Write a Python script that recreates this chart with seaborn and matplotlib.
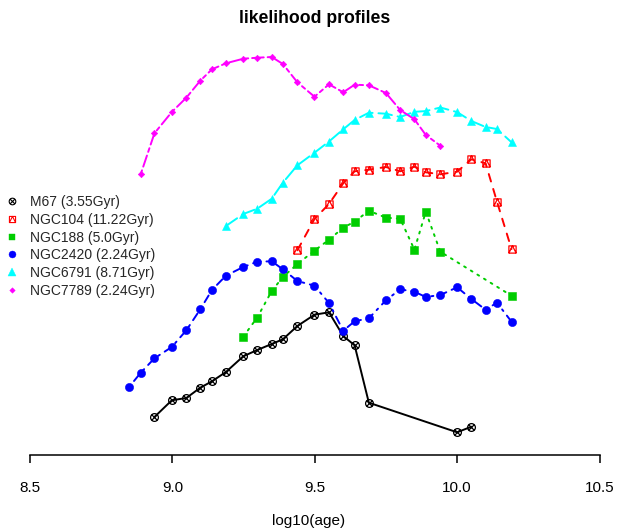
import matplotlib
matplotlib.use("Agg")
import matplotlib.pyplot as plt
from matplotlib.path import Path
from matplotlib.lines import Line2D
import seaborn as sns

# ---------------- data ----------------
names = ["M67 (3.55Gyr)", "NGC104 (11.22Gyr)", "NGC188 (5.0Gyr)",
         "NGC2420 (2.24Gyr)", "NGC6791 (8.71Gyr)", "NGC7789 (2.24Gyr)"]

m67_age = [8.937, 8.998, 9.049, 9.098, 9.139, 9.188, 9.249, 9.298, 9.349, 9.388,
           9.439, 9.499, 9.55, 9.6, 9.64, 9.69, 10.0, 10.05]
m67_val = [38, 54.7, 57, 67.3, 73.7, 83, 98.7, 105, 111, 115.7,
           129, 140.3, 142.7, 119, 109.7, 52.3, 22.7, 28.3]

ngc104_age = [9.439, 9.499, 9.55, 9.6, 9.64, 9.69, 9.75, 9.8, 9.85, 9.89,
              9.941, 10.0, 10.05, 10.1, 10.14, 10.191]
ngc104_val = [204.7, 236, 251, 271.7, 283.7, 285.3, 288, 283.7, 288.3, 282.7,
              280.7, 283.3, 295.7, 291.7, 253.3, 206]

ngc188_age = [9.249, 9.298, 9.349, 9.388, 9.439, 9.499, 9.55, 9.6, 9.64, 9.69,
              9.75, 9.8, 9.85, 9.89, 9.941, 10.191]
ngc188_val = [118.3, 137.5, 164, 178, 191, 204.3, 215.3, 227.3, 233.3, 244.3,
              237.3, 236.3, 205.3, 243.3, 203.3, 159.3]

ngc2420_age = [8.848, 8.889, 8.937, 8.998, 9.049, 9.098, 9.139, 9.188, 9.249, 9.298,
               9.349, 9.388, 9.439, 9.499, 9.55, 9.6, 9.64, 9.69, 9.75, 9.8,
               9.85, 9.89, 9.941, 10.0, 10.05, 10.1, 10.14, 10.191]
ngc2420_val = [68, 82.3, 96.7, 108, 124.7, 145.7, 165, 179.3, 188, 193.3,
               193.7, 185.7, 174, 169.3, 152, 124.3, 133.7, 136.7, 154.7, 165.7,
               163.3, 158, 160, 167.7, 156, 145.3, 152.3, 133.3]

ngc6791_age = [9.188, 9.249, 9.298, 9.349, 9.388, 9.439, 9.499, 9.55, 9.6, 9.64,
               9.69, 9.75, 9.8, 9.85, 9.89, 9.941, 10.0, 10.05, 10.1, 10.14, 10.191]
ngc6791_val = [229, 241, 246.3, 256.3, 272.3, 289.7, 302.3, 313.5, 325.7, 335,
               342.3, 341.3, 338, 343.2, 343.9, 347.5, 342.9, 334, 328, 326, 312.7]

ngc7789_age = [8.889, 8.937, 8.998, 9.049, 9.098, 9.139, 9.188, 9.249, 9.298, 9.349,
               9.388, 9.439, 9.499, 9.55, 9.6, 9.64, 9.69, 9.75, 9.8, 9.85,
               9.89, 9.941]
ngc7789_val = [281, 321.7, 343, 357.3, 374.3, 385.7, 391.7, 396.3, 397.3, 398,
               391, 372.7, 358.3, 370.7, 362.7, 370.3, 369.7, 362, 345, 335.7,
               320, 309.3]

xticks = [8.5, 9.0, 9.5, 10.0, 10.5]
xtick_labels = ["8.5", "9.0", "9.5", "10.0", "10.5"]

ages = [m67_age, ngc104_age, ngc188_age, ngc2420_age, ngc6791_age, ngc7789_age]
vals = [m67_val, ngc104_val, ngc188_val, ngc2420_val, ngc6791_val, ngc7789_val]

# ---------------- styles ----------------
colors = ["black", "#FF0000", "#00CD00", "#0000FF", "#00FFFF", "#FF00FF"]

circ_x = Path.make_compound_path(
    Path.unit_circle(),
    Path([(-0.707, -0.707), (0.707, 0.707)], [Path.MOVETO, Path.LINETO]),
    Path([(-0.707, 0.707), (0.707, -0.707)], [Path.MOVETO, Path.LINETO]),
)
sq_tri = Path.make_compound_path(
    Path([(-1, -1), (1, -1), (1, 1), (-1, 1), (-1, -1)],
         [Path.MOVETO, Path.LINETO, Path.LINETO, Path.LINETO, Path.CLOSEPOLY]),
    Path([(-1, -1), (0, 1), (1, -1)], [Path.MOVETO, Path.LINETO, Path.LINETO]),
)
markers = [circ_x, sq_tri, "s", "o", "^", "D"]
msizes = [5.6, 5.2, 5.3, 5.9, 6.4, 3.3]
filled = [False, False, True, True, True, True]
linestyles = ["-", (0, (4, 4)), (0, (1, 3)), (0, (1, 3, 4, 3)), (0, (7, 3)), (0, (2, 2, 6, 2))]

W, H = 617, 531
sns.set_theme(style="white")
plt.rcParams["font.family"] = ["Liberation Sans", "DejaVu Sans"]

fig = plt.figure(figsize=(W / 100, H / 100), dpi=100)
ax = fig.add_axes([30 / W, (H - 455) / H, 569.5 / W, 425 / H])

LW = 1.4
for i in range(6):
    fc = colors[i] if filled[i] else "none"
    sns.lineplot(x=ages[i], y=vals[i], ax=ax, color=colors[i], marker=markers[i],
                 markersize=msizes[i], markeredgecolor=colors[i], markerfacecolor=fc,
                 markeredgewidth=0.9 if not filled[i] else 0.4,
                 linestyle=linestyles[i], linewidth=LW, dash_capstyle="round",
                 estimator=None, sort=False, legend=False)

ax.set_xlim(8.5, 10.5)
ax.set_ylim(0, 425)
for s in ["left", "right", "top"]:
    ax.spines[s].set_visible(False)
ax.spines["bottom"].set_color("black")
ax.spines["bottom"].set_linewidth(1.1)
ax.set_yticks([])
ax.set_xticks(xticks)
ax.set_xticklabels(xtick_labels, fontsize=11)
ax.tick_params(axis="x", direction="out", length=6, width=1.1, color="black",
               pad=12.5, bottom=True, labelcolor="black")
ax.set_ylabel("")
ax.set_xlabel("log10(age)", fontsize=11, color="black")
ax.xaxis.set_label_coords(0.5, 1 - 521 / H, transform=fig.transFigure)
ax.xaxis.label.set_va("center")

fig.text(314.5 / W, 1 - 18.5 / H, "likelihood profiles", ha="center", va="center",
         fontsize=12.7, fontweight="bold", color="black")

handles = []
for i in range(6):
    fc = colors[i] if filled[i] else "none"
    handles.append(Line2D([], [], linestyle="none", marker=markers[i],
                          markersize=msizes[i] * 0.85, color=colors[i],
                          markeredgecolor=colors[i], markerfacecolor=fc,
                          markeredgewidth=0.8 if not filled[i] else 0.3))
ax.legend(handles, names, loc="upper left", bbox_to_anchor=(5.3 / W, 1 - 195 / H),
          bbox_transform=fig.transFigure, frameon=False, fontsize=10,
          borderpad=0, borderaxespad=0, handlelength=1.0, handletextpad=0.8,
          labelspacing=0.27)

fig.savefig("out.png", dpi=100)
